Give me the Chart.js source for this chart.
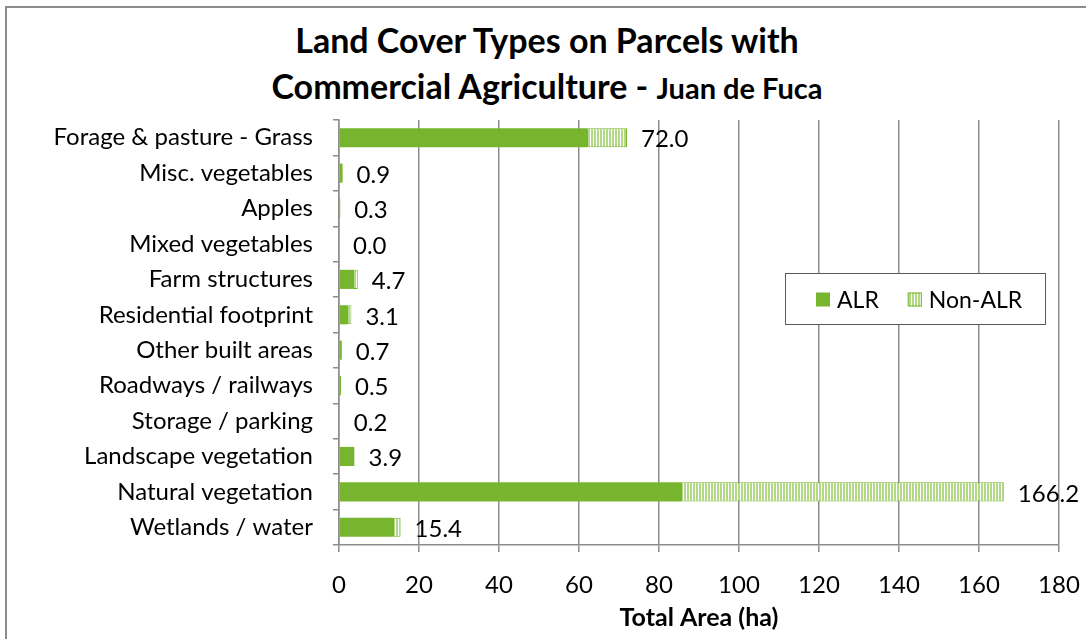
<!DOCTYPE html>
<html>
<head>
<meta charset="utf-8">
<script src="https://cdn.jsdelivr.net/npm/chart.js@4/dist/chart.umd.min.js"></script>
<style>
  html, body { margin: 0; padding: 0; background: #fff; overflow: hidden; }
  #wrap { position: relative; width: 1086px; height: 639px; }
  #frame { position: absolute; left: 5px; top: 6px; width: 1100px; height: 660px; border: 2px solid #8c8c8c; box-sizing: border-box; }
  #title { position: absolute; left: 0; top: 17px; width: 1094px; text-align: center; font-family: Lato, sans-serif; font-weight: bold; font-size: 34px; line-height: 46px; color: #000; }
  #title .sub { font-size: 29px; }
  canvas { position: absolute; left: 0; top: 0; }
</style>
</head>
<body>
<div id="wrap">
  <div id="frame"></div>
  <div id="title">Land Cover Types on Parcels with<br>Commercial Agriculture - <span class="sub">Juan de Fuca</span></div>
  <canvas id="chart" width="1086" height="639"></canvas>
</div>
<script>
// Werte (ha)
const categories = [
  'Forage & pasture - Grass', 'Misc. vegetables', 'Apples', 'Mixed vegetables',
  'Farm structures', 'Residential footprint', 'Other built areas', 'Roadways / railways',
  'Storage / parking', 'Landscape vegetation', 'Natural vegetation', 'Wetlands / water'
];
const alr    = [62.0, 0.9, 0.3, 0.0, 3.5, 2.0, 0.7, 0.5, 0.2, 3.8, 85.5, 13.5];
const nonAlr = [10.0, 0.0, 0.0, 0.0, 1.2, 1.1, 0.0, 0.0, 0.0, 0.1, 80.7, 1.9];
const totals = [72.0, 0.9, 0.3, 0.0, 4.7, 3.1, 0.7, 0.5, 0.2, 3.9, 166.2, 15.4];
const xTicks = [0, 20, 40, 60, 80, 100, 120, 140, 160, 180];

const GREEN = '#77b52f';
const FONT = 'Lato, sans-serif';
const FS = 24;

function stripePattern(){
  const c = document.createElement('canvas');
  c.width = 3; c.height = 3;
  const g = c.getContext('2d');
  g.fillStyle = '#ffffff';
  g.fillRect(0, 0, 3, 3);
  g.fillStyle = '#b3d886';
  g.fillRect(0, 0, 2, 3);
  return g.createPattern(c, 'repeat');
}
const stripes = stripePattern();

// Summen rechts neben den Balken
const totalLabels = {
  id: 'totalLabels',
  afterDatasetsDraw(chart){
    const { ctx, scales } = chart;
    ctx.save();
    ctx.font = FS + 'px ' + FONT;
    ctx.fillStyle = '#000';
    ctx.textBaseline = 'middle';
    ctx.textAlign = 'left';
    totals.forEach((t, i) => {
      const x = scales.x.getPixelForValue(t) + 14;
      const y = scales.y.getPixelForValue(i);
      ctx.fillText(t.toFixed(1), x, y + 2);
    });
    ctx.restore();
  }
};

// Legende im Plotbereich mit Rahmen
const boxLegend = {
  id: 'boxLegend',
  afterDraw(chart){
    const { ctx } = chart;
    const bx = 785, by = 273, bw = 260, bh = 51;
    ctx.save();
    ctx.fillStyle = '#fff';
    ctx.fillRect(bx, by, bw, bh);
    ctx.strokeStyle = '#5a5a5a';
    ctx.lineWidth = 1;
    ctx.strokeRect(bx + 0.5, by + 0.5, bw, bh);
    ctx.font = '23px ' + FONT;
    ctx.textBaseline = 'middle';
    const cy = by + bh / 2 + 1;
    let x = bx + 31;
    chart.data.datasets.forEach((ds) => {
      ctx.fillStyle = ds.backgroundColor;
      ctx.fillRect(x, cy - 7, 14, 14);
      if(ds.borderWidth){
        ctx.strokeStyle = ds.borderColor;
        ctx.strokeRect(x + 0.5, cy - 6.5, 13, 13);
      }
      ctx.fillStyle = '#000';
      ctx.fillText(ds.label, x + 21, cy + 1);
      x += 21 + ctx.measureText(ds.label).width + 29;
    });
    ctx.restore();
  }
};

new Chart(document.getElementById('chart'), {
  type: 'bar',
  data: {
    labels: categories,
    datasets: [
      { label: 'ALR', data: alr, backgroundColor: GREEN, borderWidth: 0,
        barPercentage: 0.54, categoryPercentage: 1 },
      { label: 'Non-ALR', data: nonAlr, backgroundColor: stripes, borderColor: GREEN,
        borderWidth: 1, borderSkipped: false, barPercentage: 0.54, categoryPercentage: 1 }
    ]
  },
  options: {
    indexAxis: 'y',
    responsive: false,
    animation: false,
    layout: { padding: { top: 120, right: 27, left: 0, bottom: 0 } },
    plugins: { legend: { display: false }, tooltip: { enabled: false }, title: { display: false } },
    scales: {
      x: {
        stacked: true, min: 0, max: 180,
        afterBuildTicks: (s) => { s.ticks = xTicks.map(v => ({ value: v })); },
        afterFit: (s) => { s.height = 94; s.paddingLeft = 0; s.paddingRight = 0; },
        grid: { color: '#8c8c8c', lineWidth: 1.5, tickLength: 7 },
        border: { color: '#8c8c8c', width: 1.5 },
        ticks: { color: '#000', font: { family: FONT, size: FS }, padding: 19 },
        title: { display: true, text: 'Total Area (ha)', color: '#000',
                 font: { family: FONT, size: 25, weight: 'bold' }, padding: { top: 0, bottom: 6 } }
      },
      y: {
        stacked: true,
        afterFit: (s) => { s.width = 339; },
        grid: { drawOnChartArea: false, color: '#8c8c8c', lineWidth: 1.5, tickLength: 6, offset: true },
        border: { color: '#8c8c8c', width: 1.5 },
        ticks: { color: '#000', font: { family: FONT, size: FS }, padding: 20, autoSkip: false }
      }
    }
  },
  plugins: [totalLabels, boxLegend]
});
</script>
</body>
</html>
